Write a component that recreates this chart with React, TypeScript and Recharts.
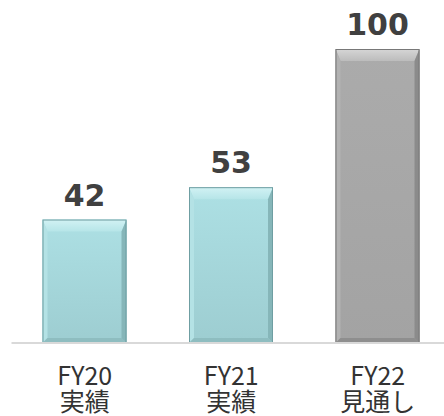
import React from "react";
import { BarChart, Bar, XAxis, YAxis, LabelList } from "recharts";

const years = ["FY20", "FY21", "FY22"];
const kinds = ["実績", "実績", "見通し"];
const values = [42, 53, 100];
const forecast = [false, false, true];

const data = years.map((y, i) => ({ year: y, kind: kinds[i], value: values[i], forecast: forecast[i] }));

const TEAL = {
  mainTop: "#ade0e4", mainBot: "#9dcdd1", topA: "#d2f2f4", topB: "#b6e5e8",
  left: "#b4e2e5", right: "#86b6b9", bottom: "#8ebdc0", edge: "#6f9ea2",
};
const GRAY = {
  mainTop: "#ababab", mainBot: "#a3a3a3", topA: "#d6d6d6", topB: "#bcbcbc",
  left: "#b2b2b2", right: "#8b8b8b", bottom: "#8e8e8e", edge: "#787878",
};

const BevelBar = (props: any) => {
  const { x, y, width: w, height: h, index } = props;
  if (!w || !h) return null;
  const pal = data[index]?.forecast ? GRAY : TEAL;
  const bt = 12, bs = 5, bb = 5;
  const idm = `m${index}`, idt = `t${index}`;
  return (
    <g>
      <defs>
        <linearGradient id={idm} x1="0" y1="0" x2="0" y2="1">
          <stop offset="0%" stopColor={pal.mainTop} />
          <stop offset="100%" stopColor={pal.mainBot} />
        </linearGradient>
        <linearGradient id={idt} x1="0" y1="0" x2="0" y2="1">
          <stop offset="0%" stopColor={pal.topA} />
          <stop offset="100%" stopColor={pal.topB} />
        </linearGradient>
      </defs>
      <rect x={x} y={y} width={w} height={h} fill={`url(#${idm})`} />
      <polygon points={`${x},${y} ${x + w},${y} ${x + w - bs},${y + bt} ${x + bs},${y + bt}`} fill={`url(#${idt})`} />
      <polygon points={`${x},${y} ${x + bs},${y + bt} ${x + bs},${y + h - bb} ${x},${y + h}`} fill={pal.left} />
      <polygon points={`${x + w},${y} ${x + w - bs},${y + bt} ${x + w - bs},${y + h - bb} ${x + w},${y + h}`} fill={pal.right} />
      <polygon points={`${x},${y + h} ${x + bs},${y + h - bb} ${x + w - bs},${y + h - bb} ${x + w},${y + h}`} fill={pal.bottom} />
      <rect x={x + 0.5} y={y + 0.5} width={w - 1} height={h - 1} fill="none" stroke={pal.edge} strokeWidth={1} />
    </g>
  );
};

const ValueLabel = (props: any) => {
  const { x, y, width, value } = props;
  return (
    <text x={x + width / 2} y={y - 14} textAnchor="middle" fontFamily="'DejaVu Sans', Verdana, sans-serif"
      fontWeight="bold" fontSize={30} fill="#404040">
      {value}
    </text>
  );
};

const CatTick = (props: any) => {
  const { x, y, index } = props;
  const d = data[index];
  if (!d) return null;
  return (
    <text x={x} y={y + 42} textAnchor="middle" fontFamily="'Noto Sans CJK JP', sans-serif" fontSize={25} fill="#333333">
      <tspan x={x}>{d.year}</tspan>
      <tspan x={x} dy={26}>{d.kind}</tspan>
    </text>
  );
};

export default function App() {
  return (
    <div style={{ position: "absolute", left: 0, top: 0, width: 444, height: 416, overflow: "hidden", background: "#fff" }}>
      <BarChart width={451} height={416} data={data} margin={{ top: 49, right: 0, bottom: 0, left: 11.5 }}>
        <YAxis hide domain={[0, 100]} />
        <XAxis dataKey="year" height={73} tickLine={false} tickSize={0} tickMargin={0} interval={0}
          axisLine={{ stroke: "#d9d9d9", strokeWidth: 2 }} tick={<CatTick />} />
        <Bar dataKey="value" barSize={84} shape={<BevelBar />} isAnimationActive={false}>
          <LabelList dataKey="value" content={<ValueLabel />} />
        </Bar>
      </BarChart>
    </div>
  );
}
